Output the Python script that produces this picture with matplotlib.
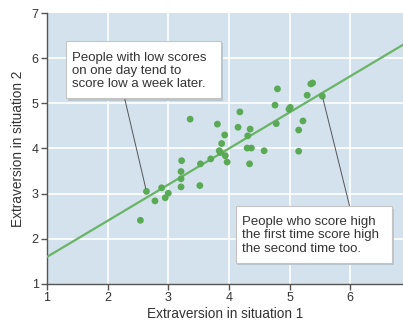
import matplotlib
matplotlib.use("Agg")
import matplotlib.pyplot as plt
from matplotlib.patches import Rectangle

plt.rcParams['font.family'] = ['Liberation Sans', 'DejaVu Sans']

# Data
situation1 = [2.54, 2.64, 2.78, 2.89, 2.95, 3.00, 3.21, 3.21, 3.21, 3.22, 3.36,
              3.52, 3.53, 3.70, 3.81, 3.84, 3.86, 3.88, 3.93, 3.94, 3.97, 4.15,
              4.18, 4.30, 4.31, 4.35, 4.37, 4.34, 4.58, 4.76, 4.78, 4.80, 4.99,
              5.01, 5.15, 5.15, 5.22, 5.29, 5.35, 5.38, 5.54]
situation2 = [2.41, 3.05, 2.84, 3.13, 2.91, 3.01, 3.15, 3.33, 3.49, 3.73, 4.65,
              3.18, 3.66, 3.77, 4.54, 3.95, 3.91, 4.11, 4.30, 3.84, 3.70, 4.47,
              4.81, 4.01, 4.28, 4.43, 4.01, 3.66, 3.95, 4.96, 4.55, 5.32, 4.87,
              4.91, 4.41, 3.94, 4.61, 5.18, 5.43, 5.45, 5.16]
fit_intercept = 0.80
fit_slope = 0.80
x_ticks = [1, 2, 3, 4, 5, 6]
y_ticks = [1, 2, 3, 4, 5, 6, 7]
note_low = "People with low scores\non one day tend to\nscore low a week later."
note_high = "People who score high\nthe first time score high\nthe second time too."
low_point = (2.64, 3.05)
high_point = (5.54, 5.16)

W, H = 403, 320
fig = plt.figure(figsize=(W / 100, H / 100), dpi=100)
ax = fig.add_axes([47 / W, 1 - 284 / H, 1 - 47 / W, (284 - 13) / H])

bg = '#d3e2ed'
ax.set_facecolor(bg)
ax.set_xlim(1, 6.87)
ax.set_ylim(1, 7)
ax.set_xticks(x_ticks)
ax.set_yticks(y_ticks)
for v in x_ticks[1:]:
    ax.axvline(v, color='white', lw=1.2, zorder=1)
for v in y_ticks[1:-1]:
    ax.axhline(v, color='white', lw=1.2, zorder=1)

for s in ['top', 'right']:
    ax.spines[s].set_visible(False)
for s in ['left', 'bottom']:
    ax.spines[s].set_color('#555555')
    ax.spines[s].set_linewidth(1.0)
ax.tick_params(colors='#555555', labelcolor='#333333', labelsize=9,
               length=4, width=1, pad=2)

green_line = '#6ab466'
green_pt = '#5aa955'
xs = [1, 6.87]
ax.plot(xs, [fit_intercept + fit_slope * x for x in xs], color=green_line,
        lw=1.6, zorder=3, clip_on=True)
ax.scatter(situation1, situation2, s=24, color=green_pt, edgecolors='none',
           zorder=4)

# Callout boxes
def box(x0, y0, x1, y1):
    ax.add_patch(Rectangle((x0 + 0.03, y0 - 0.05), x1 - x0, y1 - y0,
                           facecolor='#b9c6cf', edgecolor='none', zorder=5))
    ax.add_patch(Rectangle((x0, y0), x1 - x0, y1 - y0, facecolor='white',
                           edgecolor='#c4c4c4', lw=0.8, zorder=6))

box(1.31, 5.11, 3.87, 6.38)
box(4.11, 1.46, 6.69, 2.72)
ax.text(1.42, 5.72, note_low, ha='left', va='center', fontsize=9.5,
        color='#333333', linespacing=1.1, zorder=7)
ax.text(4.22, 2.08, note_high, ha='left', va='center', fontsize=9.5,
        color='#333333', linespacing=1.15, zorder=7)
ax.annotate('', xy=low_point, xytext=(2.28, 5.11),
            arrowprops=dict(arrowstyle='-', color='#555555', lw=0.7,
                            shrinkA=0, shrinkB=2), zorder=5)
ax.annotate('', xy=high_point, xytext=(5.99, 2.72),
            arrowprops=dict(arrowstyle='-', color='#555555', lw=0.7,
                            shrinkA=0, shrinkB=2), zorder=5)

ax.set_xlabel('Extraversion in situation 1', fontsize=9.8, color='#333333',
              labelpad=2)
ax.set_ylabel('Extraversion in situation 2', fontsize=9.8, color='#333333',
              labelpad=5)

fig.savefig('out.png', dpi=100)
